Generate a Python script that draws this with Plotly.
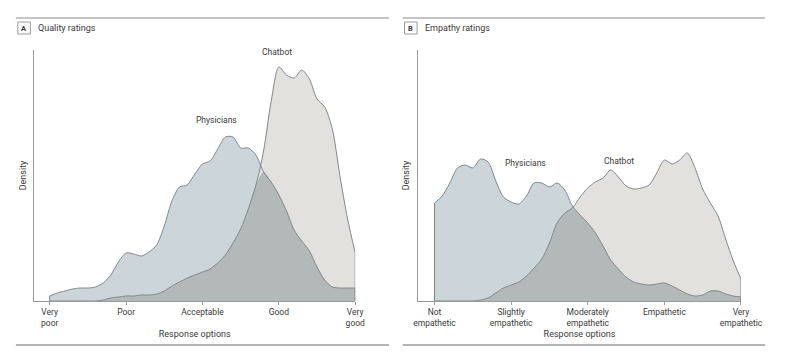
import plotly.graph_objects as go
from plotly.subplots import make_subplots

# ---------------- data ----------------
grid = [1.0, 1.1, 1.2, 1.3, 1.4, 1.5, 1.6, 1.7, 1.8, 1.9,
        2.0, 2.1, 2.2, 2.3, 2.4, 2.5, 2.6, 2.7, 2.8, 2.9,
        3.0, 3.1, 3.2, 3.3, 3.4, 3.5, 3.6, 3.7, 3.8, 3.9,
        4.0, 4.1, 4.2, 4.3, 4.4, 4.5, 4.6, 4.7, 4.8, 4.9, 5.0]

quality_physicians = [5, 8, 10, 12, 13, 13, 14, 18, 26, 39,
                      48, 47, 45, 49, 56, 75, 100, 114, 116, 127,
                      137, 140, 152, 164, 164, 153, 153, 146, 129, 119,
                      106, 90, 71, 60, 50, 34, 21, 14, 13, 13, 13]
quality_chatbot = [0, 0, 0, 0, 0, 0, 0, 1, 3, 4,
                   5, 5, 6, 6, 7, 10, 15, 19, 23, 26,
                   29, 32, 38, 46, 58, 72, 92, 116, 150, 200,
                   234, 226, 223, 231, 222, 202, 194, 172, 125, 82, 48]

empathy_physicians = [98, 105, 118, 133, 136, 133, 142, 139, 120, 104,
                      99, 97, 105, 118, 118, 114, 118, 111, 95, 86,
                      78, 68, 55, 41, 32, 24, 19, 17, 16, 17,
                      18, 15, 11, 7, 5, 6, 10, 10, 7, 5, 4]
empathy_chatbot = [0, 0, 0, 0, 0, 0, 1, 3, 8, 13,
                   16, 19, 25, 33, 42, 58, 78, 88, 93, 104,
                   113, 119, 123, 131, 124, 115, 112, 113, 116, 128,
                   141, 137, 141, 148, 133, 112, 98, 85, 62, 40, 22]

quality_ticks = ["Very<br>poor", "Poor", "Acceptable", "Good", "Very<br>good"]
empathy_ticks = ["Not<br>empathetic", "Slightly<br>empathetic", "Moderately<br>empathetic",
                 "Empathetic", "Very<br>empathetic"]
tick_vals = [1, 2, 3, 4, 5]

# ---------------- style ----------------
FONT = "Roboto, 'Noto Sans', sans-serif"
TXT = "#3a3a3a"
PHYS = "#cbd5da"
CHAT = "#e2e1de"
OVER = "#b3b8b9"
LINE = "#80878b"
AX = "#9a9a9a"

# the page body has an 8px margin: keep the figure inside the window (no scrollbars)
OFF = 8
W, H = 800 - 2 * OFF, 364 - 2 * OFF


def fx(px):
    return (px - OFF) / W


def fy(py):
    return 1 - (py - OFF) / H


fig = make_subplots(rows=1, cols=2)


def add_panel(col, phys, chat):
    over = [min(a, b) for a, b in zip(phys, chat)]
    for ys, colr in ((phys, PHYS), (chat, CHAT), (over, OVER)):
        fig.add_trace(go.Scatter(x=grid, y=ys, mode="lines", fill="tozeroy",
                                 fillcolor=colr, line=dict(width=0, shape="spline", smoothing=0.8),
                                 hoverinfo="skip", showlegend=False), row=1, col=col)
    for ys in (phys, chat):
        fig.add_trace(go.Scatter(x=grid, y=ys, mode="lines",
                                 line=dict(width=1, color=LINE, shape="spline", smoothing=0.8),
                                 hoverinfo="skip", showlegend=False), row=1, col=col)
        fig.add_trace(go.Scatter(x=[grid[0], grid[0]], y=[0, ys[0]], mode="lines",
                                 line=dict(width=1, color=LINE), hoverinfo="skip",
                                 showlegend=False), row=1, col=col)
        fig.add_trace(go.Scatter(x=[grid[-1], grid[-1]], y=[0, ys[-1]], mode="lines",
                                 line=dict(width=1, color=LINE), hoverinfo="skip",
                                 showlegend=False), row=1, col=col)


add_panel(1, quality_physicians, quality_chatbot)
add_panel(2, empathy_physicians, empathy_chatbot)

common_x = dict(showgrid=False, zeroline=False, showline=True, linecolor=AX, linewidth=1,
                ticks="outside", ticklen=3, tickcolor=AX, tickvals=tick_vals,
                tickfont=dict(family=FONT, size=8.5, color=TXT),
                title=dict(text="Response options", font=dict(family=FONT, size=9, color=TXT),
                           standoff=3))
common_y = dict(showgrid=False, zeroline=False, showline=True, linecolor=AX, linewidth=1,
                showticklabels=False, ticks="", range=[0, 251], domain=[fy(301), fy(50)],
                title=dict(text="Density", font=dict(family=FONT, size=9, color=TXT), standoff=5))

fig.update_xaxes(common_x, row=1, col=1)
fig.update_xaxes(common_x, row=1, col=2)
fig.update_xaxes(domain=[fx(31), fx(363)], range=[1 - 16 / 79, 5], ticktext=quality_ticks, row=1, col=1)
fig.update_xaxes(domain=[fx(428), fx(762)], range=[1 - 17 / 79.25, 5], ticktext=empathy_ticks, row=1, col=2)
fig.update_yaxes(common_y, row=1, col=1)
fig.update_yaxes(common_y, row=1, col=2)

annos = [
    dict(x=3.19, y=181, xref="x", yref="y", text="Physicians"),
    dict(x=3.97, y=249, xref="x", yref="y", text="Chatbot"),
    dict(x=2.19, y=138, xref="x2", yref="y2", text="Physicians"),
    dict(x=3.41, y=140, xref="x2", yref="y2", text="Chatbot"),
]
for a in annos:
    fig.add_annotation(**a, showarrow=False, xanchor="center", yanchor="middle",
                       font=dict(family=FONT, size=8.5, color=TXT))

# panel headers
for (x0, x1, letter, title) in ((12, 398, "A", "Quality ratings"),
                                (412, 787, "B", "Empathy ratings")):
    fig.add_shape(type="line", xref="paper", yref="paper", x0=fx(x0), x1=fx(x1),
                  y0=fy(18), y1=fy(18), line=dict(color="#8a8a8a", width=1))
    fig.add_shape(type="line", xref="paper", yref="paper", x0=fx(x0), x1=fx(x1),
                  y0=fy(345), y1=fy(345), line=dict(color="#6a6a6a", width=1))
    fig.add_shape(type="rect", xref="paper", yref="paper", x0=fx(x0 + 2), x1=fx(x0 + 15),
                  y0=fy(34), y1=fy(22), line=dict(color="#9a9a9a", width=1),
                  fillcolor="white")
    fig.add_annotation(x=fx(x0 + 8.5), y=fy(28), xref="paper", yref="paper", text="<b>" + letter + "</b>",
                       xanchor="center", yanchor="middle",
                       showarrow=False, font=dict(family=FONT, size=7.5, color=TXT))
    fig.add_annotation(x=fx(x0 + 21), y=fy(28), xref="paper", yref="paper", text=title,
                       xanchor="left", yanchor="middle", showarrow=False,
                       font=dict(family=FONT, size=9, color=TXT))

fig.update_layout(width=W, height=H, margin=dict(l=0, r=0, t=0, b=0),
                  paper_bgcolor="white", plot_bgcolor="white", showlegend=False)

fig.write_html("out.html")
